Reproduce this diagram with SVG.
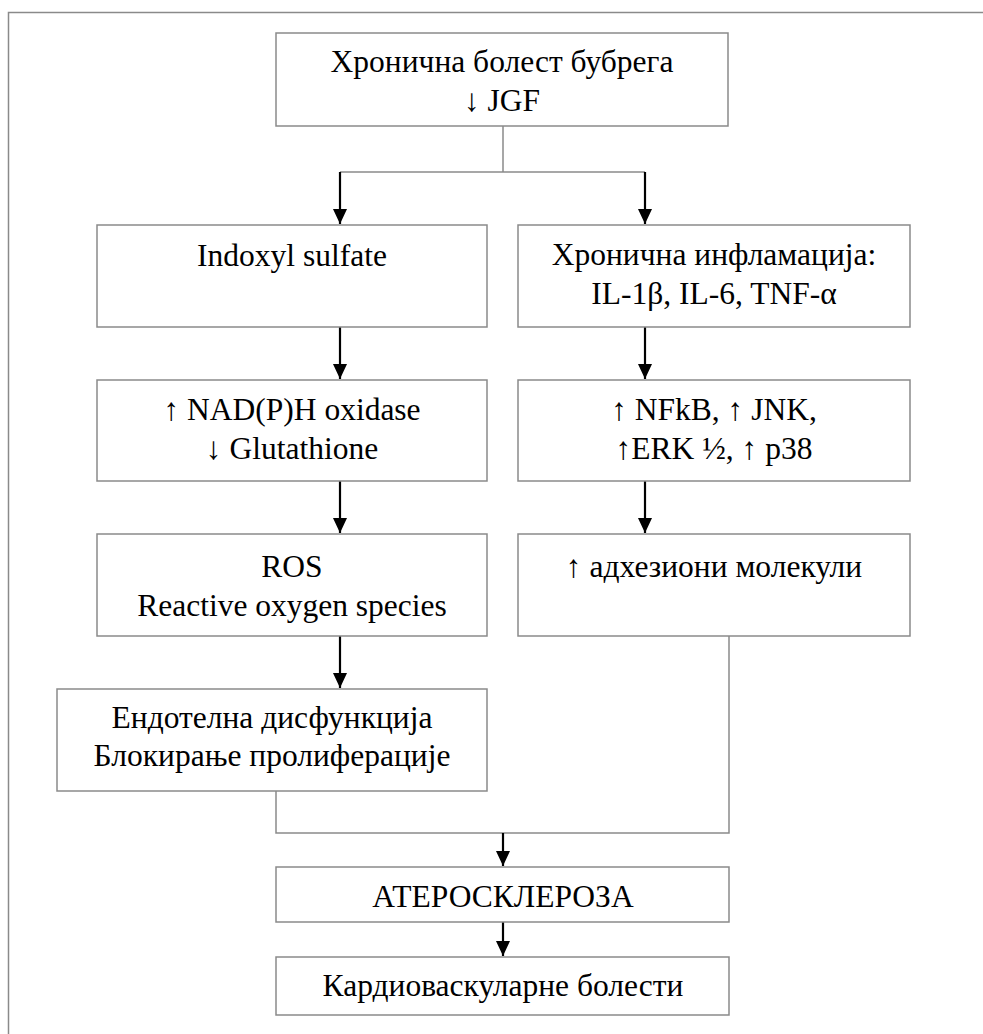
<svg xmlns="http://www.w3.org/2000/svg" width="983" height="1034" viewBox="0 0 983 1034">
<style>
.box{fill:#fff;stroke:#8a8a8a;stroke-width:1.5}
.t{font-family:"Liberation Serif","Times New Roman",serif;font-size:31.5px;fill:#000;text-anchor:middle}
.ln{fill:none;stroke:#8a8a8a;stroke-width:1.5}
.ar{fill:none;stroke:#000;stroke-width:2.2}
</style>
<defs>
<marker id="ah" markerUnits="userSpaceOnUse" markerWidth="16" markerHeight="16" viewBox="0 0 16 16" refX="15" refY="8" orient="auto">
<path d="M0,1 L15,8 L0,15 Z" fill="#000"/>
</marker>
</defs>
<rect x="0" y="0" width="983" height="1034" fill="#fff"/>
<path class="ln" d="M8.5,1034 L8.5,12.5 L983,12.5"/>
<g id="connectors">
<path class="ln" d="M503,126 L503,172 M340,172 L645,172"/>
<path class="ar" d="M340,172 L340,224" marker-end="url(#ah)"/>
<path class="ar" d="M645,172 L645,224" marker-end="url(#ah)"/>
<path class="ar" d="M340,327 L340,379" marker-end="url(#ah)"/>
<path class="ar" d="M645,327 L645,379" marker-end="url(#ah)"/>
<path class="ar" d="M340,481 L340,533" marker-end="url(#ah)"/>
<path class="ar" d="M645,481 L645,533" marker-end="url(#ah)"/>
<path class="ar" d="M340,636 L340,688" marker-end="url(#ah)"/>
<path class="ln" d="M276,791 L276,833 L729,833 L729,636"/>
<path class="ar" d="M503,833 L503,866" marker-end="url(#ah)"/>
<path class="ar" d="M503,922 L503,956" marker-end="url(#ah)"/>
</g>
<g id="n-top">
<rect class="box" x="276" y="33" width="452" height="93"/>
<text class="t" x="502" y="72">Хронична болест бубрега</text>
<text class="t" x="502" y="111">↓ JGF</text>
</g>
<g id="n-indoxyl">
<rect class="box" x="97" y="225" width="390" height="102"/>
<text class="t" x="292" y="266">Indoxyl sulfate</text>
</g>
<g id="n-inflam">
<rect class="box" x="518" y="225" width="392" height="102"/>
<text class="t" x="714" y="265">Хронична инфламација:</text>
<text class="t" x="714" y="304">IL-1β, IL-6, TNF-α</text>
</g>
<g id="n-nadph">
<rect class="box" x="97" y="380" width="390" height="101"/>
<text class="t" x="292" y="420">↑ NAD(P)H oxidase</text>
<text class="t" x="292" y="459">↓ Glutathione</text>
</g>
<g id="n-nfkb">
<rect class="box" x="518" y="380" width="392" height="101"/>
<text class="t" x="714" y="420">↑ NFkB, ↑ JNK,</text>
<text class="t" x="714" y="459">↑ERK ½, ↑ p38</text>
</g>
<g id="n-ros">
<rect class="box" x="97" y="534" width="390" height="102"/>
<text class="t" x="292" y="577">ROS</text>
<text class="t" x="292" y="616">Reactive oxygen species</text>
</g>
<g id="n-adhesion">
<rect class="box" x="518" y="534" width="392" height="102"/>
<text class="t" x="714" y="577">↑ адхезиони молекули</text>
</g>
<g id="n-endothel">
<rect class="box" x="57" y="689" width="430" height="102"/>
<text class="t" x="272" y="728">Ендотелна дисфункција</text>
<text class="t" x="272" y="766">Блокирање пролиферације</text>
</g>
<g id="n-athero">
<rect class="box" x="276" y="867" width="453" height="55"/>
<text class="t" x="503" y="907">АТЕРОСКЛЕРОЗА</text>
</g>
<g id="n-cardio">
<rect class="box" x="276" y="957" width="453" height="58"/>
<text class="t" x="503" y="996">Кардиоваскуларне болести</text>
</g>
</svg>
